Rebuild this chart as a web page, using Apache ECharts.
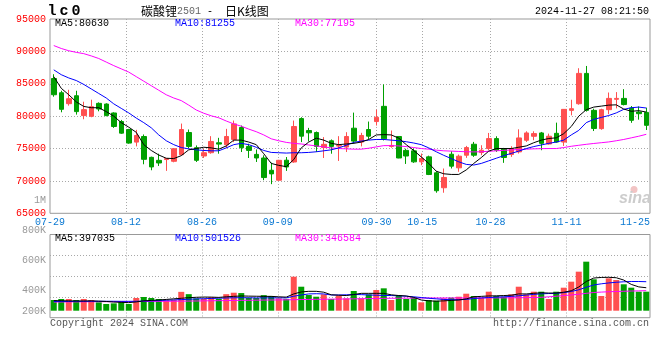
<!DOCTYPE html>
<html><head><meta charset="utf-8">
<script src="https://cdn.jsdelivr.net/npm/echarts@6/dist/echarts.min.js"></script>
<style>html,body{margin:0;padding:0;background:#fff}#c{width:660px;height:360px}</style>
</head><body><div id="c"></div>
<script>
const dates = ['07-29','07-30','07-31',
'08-01','08-02','08-05','08-06','08-07','08-08','08-09','08-12','08-13','08-14','08-15','08-16','08-19','08-20','08-21','08-22','08-23','08-26','08-27','08-28','08-29','08-30',
'09-02','09-03','09-04','09-05','09-06','09-09','09-10','09-11','09-12','09-13','09-18','09-19','09-20','09-23','09-24','09-25','09-26','09-27','09-30',
'10-08','10-09','10-10','10-11','10-14','10-15','10-16','10-17','10-18','10-21','10-22','10-23','10-24','10-25','10-28','10-29','10-30','10-31',
'11-01','11-04','11-05','11-06','11-07','11-08','11-11','11-12','11-13','11-14','11-15','11-18','11-19','11-20','11-21','11-22','11-25','11-26'];
const tickLabels = ['07-29','08-12','08-26','09-09','09-30','10-15','10-28','11-11','11-25'];
const priceTicks = [65000, 95000, 5000];
const volTickLabels = [200000, 1000000, 200000];

const open = [85810,83612,81925,83150,80085,79980,81975,81870,80490,79165,77935,75990,76860,73640,73180,73300,73030,74050,77475,75125,73845,74355,75890,75585,76400,78245,75330,74100,73540,71645,70110,73200,72925,79625,77780,77475,75150,76195,75380,75225,78140,75990,77935,79165,81515,75330,76860,74715,74640,72944,73713,71252,68945,74124,72022,73970,75662,74380,74996,76534,74996,74072,74483,76278,76893,77406,75700,77350,76000,80893,81919,86600,80893,78073,81000,82600,82740,81252,80637,80580];
const close = [83305,81055,82690,80700,81005,81465,81105,80085,78400,77375,75840,77015,73335,72160,72770,73450,74970,77935,75330,73180,74355,76095,75685,76860,78805,75125,74715,73540,70520,71085,73180,72150,78400,76910,77425,75330,75650,75330,75480,76860,76145,77015,76910,79830,76500,75480,73540,73845,72944,73457,70995,68483,70534,72278,73816,75149,73970,74739,76534,74739,73611,74996,76637,77406,77303,75800,76900,76000,81047,81150,86600,80893,78100,81000,82740,82740,81790,79355,80380,78585];
const low = [83000,80595,81620,80237,79520,79830,80750,79980,78190,77270,75740,75330,72570,71645,72310,71550,72875,73950,75070,72925,73540,74200,74200,75070,75990,74460,73540,72925,70110,69500,70000,71545,72800,75990,76095,74460,73540,74200,73080,74460,75740,75330,76400,78550,76250,75125,73500,72620,72790,72430,70900,68176,68176,71919,71406,73560,73713,73970,74739,74483,72791,73713,74227,76022,76278,74740,75600,75900,75400,80124,81765,80700,77700,77900,80300,81200,81662,78970,79458,77860];
const high = [86475,83920,84070,83920,82230,82540,82130,81975,80595,79420,78040,77885,77170,73745,74200,73460,75070,78855,77935,75480,74970,76910,76655,78040,79320,78550,75740,74865,73950,72825,73250,73690,79320,79830,78190,77630,76760,76400,76910,77525,80545,77425,79165,81005,84900,77780,76900,74970,75000,74230,73900,71500,71919,74585,74072,75406,76022,75508,77406,76893,75098,75355,77970,77662,77663,77560,77303,79000,81100,82534,87400,87750,81150,81150,83650,83713,84170,81560,81500,81304];

const ma5 = [86100,84300,83300,82200,81500,81300,81300,80700,80000,79000,78300,77500,75600,74700,74000,73500,73450,73900,74800,75000,75200,75100,74900,75400,76300,76300,76000,75600,74200,72700,72400,72200,73300,75100,76000,76600,76300,75800,75600,75700,75800,76000,76400,77100,77150,77100,76600,75600,74700,73700,72700,71500,71100,71000,71000,71700,72700,73600,74600,75000,75000,75000,75200,75400,75900,76300,76550,76650,77300,78400,80000,81000,81400,81550,81700,81750,81100,80750,80850,80630];
const ma10 = [87150,86400,85900,85500,84900,84200,83500,82800,81900,81200,80500,79700,79000,78200,77100,76200,75600,75150,74950,74800,74700,74650,74650,75100,75600,75800,75600,75200,74700,74400,74350,74300,74350,74350,74400,74500,74650,74800,75100,75500,75950,76150,76300,76400,76400,76300,76200,76050,75850,75600,75100,74500,73950,73450,72950,72550,72450,72700,73100,73500,73900,74250,74600,75000,75300,75550,75800,76000,76300,77100,77800,79000,79500,79800,80100,80500,81050,81300,81400,81255];
const ma30 = [90900,90450,90100,89850,89650,89300,88900,88350,87800,87300,86800,86100,85400,84700,84000,83300,82800,82400,81700,80950,80450,80050,79750,79250,78800,78450,78000,77600,77100,76500,76200,75950,75800,75700,75550,75400,75250,75100,75000,74950,74900,74900,75050,75250,75450,75450,75400,75300,75150,75000,74900,74750,74650,74600,74550,74500,74480,74500,74580,74650,74720,74780,74850,74900,74950,74980,75000,75000,75150,75350,75500,75650,75780,75900,76020,76200,76400,76650,76900,77195];

const vol = [185000,202000,202000,185000,202000,185000,145000,116000,127000,168000,116000,220000,237000,220000,202000,180000,183000,326000,286000,213000,205000,233000,205000,286000,311000,305000,222000,219000,269000,254000,213000,205000,588000,415000,271000,242000,283000,202000,260000,214000,341000,214000,283000,358000,387000,185000,271000,202000,225000,145000,185000,173000,214000,225000,242000,294000,254000,225000,329000,254000,242000,283000,415000,283000,329000,329000,202000,329000,398000,502000,675000,848000,543000,254000,560000,531000,457000,398000,329000,329000];
const vma5 = [175000,172000,170000,168000,168000,170000,165000,160000,150000,145000,140000,152000,170000,178000,185000,195000,205000,215000,225000,232000,236000,235000,230000,240000,248000,255000,252000,250000,248000,248000,240000,235000,290000,325000,335000,335000,320000,275000,268000,262000,280000,300000,300000,300000,300000,275000,262000,255000,230000,185000,170000,165000,170000,178000,185000,205000,240000,248000,255000,258000,262000,268000,290000,290000,300000,310000,305000,305000,320000,345000,410000,505000,565000,575000,578000,570000,530000,455000,412000,397035];
const vma10 = [160000,160000,160000,162000,162000,163000,163000,163000,163000,162000,162000,163000,166000,170000,175000,182000,186000,192000,198000,204000,207000,212000,216000,220000,223000,225000,223000,221000,221000,222000,222000,222000,250000,272000,290000,294000,290000,272000,272000,275000,280000,278000,272000,268000,265000,262000,258000,250000,240000,228000,215000,205000,195000,190000,190000,195000,210000,220000,228000,235000,240000,248000,258000,270000,282000,292000,297000,300000,312000,332000,362000,405000,445000,465000,480000,492000,500000,505000,505000,501526];
const vma30 = [150000,151000,152000,153000,154000,155000,156000,156000,157000,157000,158000,159000,160000,161000,162000,163000,164000,165000,167000,168000,170000,172000,173000,175000,177000,179000,180000,182000,184000,185000,186000,188000,190000,193000,195000,197000,198000,200000,201000,203000,205000,207000,209000,211000,213000,215000,216000,217000,218000,219000,220000,220000,220000,220000,220000,220000,221000,221000,222000,222000,222000,223000,224000,226000,228000,232000,240000,250000,262000,272000,285000,300000,315000,322000,328000,332000,336000,340000,343000,346584];

const RED = '#ff5050', GREEN = '#00a000';
const MONO = '"Liberation Mono", "DejaVu Sans Mono", monospace';
const CJK = '"Noto Sans CJK SC", sans-serif';
const DOT = {type: [1, 2], color: '#a8a8a8', width: 1};
const last = a => a[a.length - 1];
const isTick = v => tickLabels.includes(v);
const isGrid = v => isTick(v) && v !== tickLabels[0] && v !== last(tickLabels);

const chart = echarts.init(document.getElementById('c'), null, {renderer: 'canvas'});
const candleData = dates.map((d, i) => [open[i], close[i], low[i], high[i]]);
const volData = dates.map((d, i) => ({value: vol[i], itemStyle: {color: close[i] >= open[i] ? RED : GREEN}}));

function txt(x, y, text, fill, align, font) {
  return {type: 'text', x: x, y: y, z: 100, silent: true,
    style: {text: text, fill: fill, font: font || ('10px ' + MONO), textAlign: align || 'left', align: align || 'left', textVerticalAlign: 'middle', verticalAlign: 'middle'}};
}

const option = {
  animation: false,
  grid: [
    {left: 50, top: 19, width: 600, height: 194.3, show: true, borderColor: '#999', borderWidth: 1},
    {left: 50, top: 234.5, width: 600, height: 83.2, show: true, borderColor: '#999', borderWidth: 1},
    {left: 50, top: 200, width: 600, height: 121, show: false}
  ],
  xAxis: [
    {type: 'category', gridIndex: 0, data: dates, show: false, position: 'top'},
    {type: 'category', gridIndex: 0, data: dates, boundaryGap: false, position: 'bottom',
      axisLine: {show: false}, axisTick: {show: false},
      axisLabel: {interval: (i, v) => isTick(v), color: '#0a78d2', fontFamily: MONO, fontSize: 10, margin: 4,
        formatter: v => v === last(tickLabels) ? '{s|' + v + '}' : v,
        rich: {s: {padding: [0, 15, 0, 0], color: '#0a78d2', fontFamily: MONO, fontSize: 10}}},
      splitLine: {show: true, interval: (i, v) => isGrid(v), lineStyle: DOT}},
    {type: 'category', gridIndex: 1, data: dates, show: false, position: 'top'},
    {type: 'category', gridIndex: 1, data: dates, boundaryGap: false, position: 'bottom',
      axisLine: {show: false}, axisTick: {show: false}, axisLabel: {show: false},
      splitLine: {show: true, interval: (i, v) => isGrid(v), lineStyle: DOT}},
    {type: 'category', gridIndex: 2, data: dates, show: false}
  ],
  yAxis: [
    {type: 'value', gridIndex: 0, min: priceTicks[0], max: priceTicks[1], interval: priceTicks[2],
      axisLine: {show: false}, axisTick: {show: false},
      axisLabel: {color: '#f00', fontFamily: MONO, fontSize: 10, margin: 4, padding: [0, 0, 3, 0], formatter: v => String(v), showMinLabel: true, showMaxLabel: true},
      splitLine: {show: true, lineStyle: DOT, showMinLine: false, showMaxLine: false}},
    {type: 'value', gridIndex: 1, min: -121000, max: 1318000, show: false},
    {type: 'value', gridIndex: 1, inverse: true, min: 0, max: 3.99, interval: 1,
      axisLine: {show: false}, axisTick: {show: false}, axisLabel: {show: false},
      splitLine: {show: true, lineStyle: DOT, showMinLine: false, showMaxLine: false}},
    {type: 'value', gridIndex: 2, min: volTickLabels[0], max: volTickLabels[1], interval: volTickLabels[2],
      axisLine: {show: false}, axisTick: {show: false}, splitLine: {show: false},
      axisLabel: {color: '#999', fontFamily: MONO, fontSize: 10, margin: 4, showMinLabel: true, showMaxLabel: true,
        formatter: v => {
          const s = v >= 1000000 ? (v / 1000000) + 'M' : (v / 1000) + 'K';
          return v === volTickLabels[0] ? '{b|' + s + '}' : s;
        },
        rich: {b: {padding: [0, 0, 20, 0], color: '#999', fontFamily: MONO, fontSize: 10}}}}
  ],
  series: [
    {type: 'candlestick', xAxisIndex: 0, yAxisIndex: 0, data: candleData, barWidth: 5,
      itemStyle: {color: RED, color0: GREEN, borderColor: RED, borderColor0: GREEN, borderWidth: 1}},
    {type: 'line', xAxisIndex: 0, yAxisIndex: 0, data: ma30, symbol: 'none', lineStyle: {color: '#ff00ff', width: 1}, z: 3},
    {type: 'line', xAxisIndex: 0, yAxisIndex: 0, data: ma10, symbol: 'none', lineStyle: {color: '#0000ff', width: 1}, z: 3},
    {type: 'line', xAxisIndex: 0, yAxisIndex: 0, data: ma5, symbol: 'none', lineStyle: {color: '#000', width: 1}, z: 3},
    {type: 'bar', xAxisIndex: 2, yAxisIndex: 1, data: volData, barWidth: 6},
    {type: 'line', xAxisIndex: 2, yAxisIndex: 1, data: vma30, symbol: 'none', lineStyle: {color: '#ff00ff', width: 1}, z: 3},
    {type: 'line', xAxisIndex: 2, yAxisIndex: 1, data: vma10, symbol: 'none', lineStyle: {color: '#0000ff', width: 1}, z: 3},
    {type: 'line', xAxisIndex: 2, yAxisIndex: 1, data: vma5, symbol: 'none', lineStyle: {color: '#000', width: 1}, z: 3}
  ],
  graphic: [
    {type: 'text', x: 46, y: 11, z: 100, silent: true,
      style: {text: '{a|l}{a|c}{a|0}', textVerticalAlign: 'middle', verticalAlign: 'middle',
        rich: {a: {width: 12, align: 'center', font: 'bold 15px ' + MONO, fill: '#000', color: '#000'}}}},
    {type: 'text', x: 141, y: 11, z: 100, silent: true,
      style: {text: '{c|碳酸锂}{n|2501}{m| -  }{c|日K线图}', textVerticalAlign: 'middle', verticalAlign: 'middle',
        rich: {c: {font: '12px ' + CJK, fill: '#000', color: '#000'},
               n: {font: '10px ' + MONO, fill: '#666', color: '#666'},
               m: {font: '10px ' + MONO, fill: '#000', color: '#000'}}}},
    txt(649, 11.5, '2024-11-27 08:21:50', '#000', 'right'),
    txt(55, 23.7, 'MA5:' + last(ma5), '#000'),
    txt(175, 23.7, 'MA10:' + last(ma10), '#0000ff'),
    txt(295, 23.7, 'MA30:' + last(ma30), '#ff00ff'),
    txt(55, 238.3, 'MA5:' + last(vma5), '#000'),
    txt(175, 238.3, 'MA10:' + last(vma10), '#0000ff'),
    txt(295, 238.3, 'MA30:' + last(vma30), '#ff00ff'),
    txt(50, 323, 'Copyright 2024 SINA.COM', '#555'),
    txt(649, 323, 'http://finance.sina.com.cn', '#555', 'right'),
    {type: 'circle', z: 90, silent: true, shape: {cx: 634, cy: 189.5, r: 3.5}, style: {fill: '#f2c4c4'}},
    txt(619, 199, 'sina', '#cccccc', 'left', 'italic bold 16px "Liberation Sans", sans-serif')
  ]
};
chart.setOption(option);
</script>
</body></html>
